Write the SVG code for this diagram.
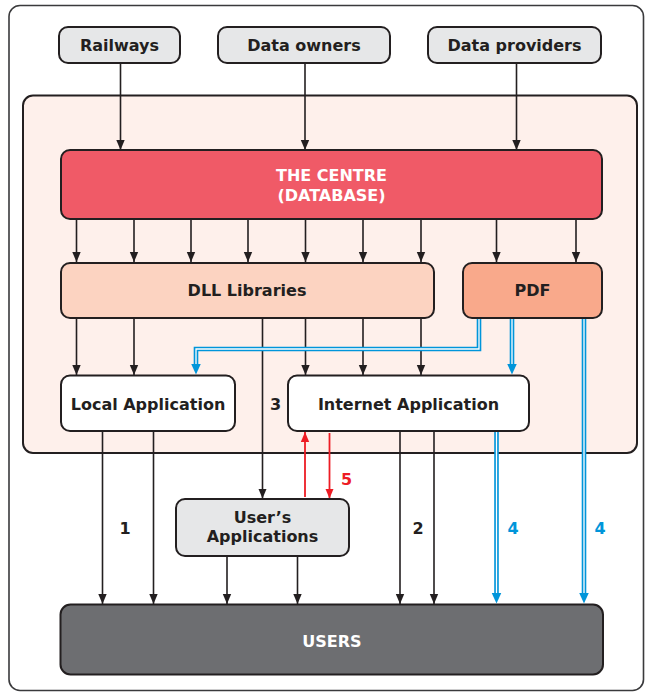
<svg xmlns="http://www.w3.org/2000/svg" width="645" height="693" viewBox="0 0 645 693">
<defs>
<style>
.box{stroke:#231F20;stroke-width:2}
.t{font-family:"DejaVu Sans","Verdana",sans-serif;font-weight:bold;font-size:16px;text-anchor:middle;fill:#231F20}
.w{fill:#FFFFFF}
.ln{fill:none;stroke:#231F20;stroke-width:1.6}
.red{fill:none;stroke:#ED1C24;stroke-width:1.8}
.bo{fill:none;stroke:#0095DA;stroke-width:4.6}
.bi{fill:none;stroke:#FFFFFF;stroke-width:1.3}
</style>
<marker id="ak" viewBox="0 0 10 10" refX="10" refY="5" markerWidth="10" markerHeight="10" markerUnits="userSpaceOnUse" orient="auto"><path d="M0,0.8 L10,5 L0,9.2 z" fill="#231F20"/></marker>
<marker id="ar" viewBox="0 0 10 10" refX="10" refY="5" markerWidth="10" markerHeight="10" markerUnits="userSpaceOnUse" orient="auto"><path d="M0,0.8 L10,5 L0,9.2 z" fill="#ED1C24"/></marker>
<marker id="ab" viewBox="0 0 11 11" refX="0.5" refY="5.5" markerWidth="11" markerHeight="11" markerUnits="userSpaceOnUse" orient="auto"><path d="M0,0.5 L11,5.5 L0,10.5 z" fill="#0095DA"/></marker>
</defs>
<rect x="0" y="0" width="645" height="693" fill="#FFFFFF"/>
<rect x="9" y="5.5" width="634.5" height="685" rx="11" fill="#FFFFFF" stroke="#3A3A3C" stroke-width="1.6"/>
<g id="system">
<rect x="23" y="95.5" width="614" height="357.5" rx="10" fill="#FEF0EB" stroke="#231F20" stroke-width="2"/>
</g>
<g id="connectors">
<path class="ln" marker-end="url(#ak)" d="M120.5,63 V150"/>
<path class="ln" marker-end="url(#ak)" d="M305,63 V150"/>
<path class="ln" marker-end="url(#ak)" d="M516.5,63 V150"/>
<path class="ln" marker-end="url(#ak)" d="M76.5,219 V262"/>
<path class="ln" marker-end="url(#ak)" d="M134,219 V262"/>
<path class="ln" marker-end="url(#ak)" d="M191,219 V262"/>
<path class="ln" marker-end="url(#ak)" d="M248,219 V262"/>
<path class="ln" marker-end="url(#ak)" d="M305.5,219 V262"/>
<path class="ln" marker-end="url(#ak)" d="M363,219 V262"/>
<path class="ln" marker-end="url(#ak)" d="M421,219 V262"/>
<path class="ln" marker-end="url(#ak)" d="M496.5,219 V262"/>
<path class="ln" marker-end="url(#ak)" d="M576,219 V262"/>
<path class="ln" marker-end="url(#ak)" d="M76.5,318 V375"/>
<path class="ln" marker-end="url(#ak)" d="M134,318 V375"/>
<path class="ln" marker-end="url(#ak)" d="M305.5,318 V375"/>
<path class="ln" marker-end="url(#ak)" d="M363,318 V375"/>
<path class="ln" marker-end="url(#ak)" d="M421,318 V375"/>
<path class="ln" marker-end="url(#ak)" d="M262.5,318 V498.5"/>
<path class="ln" marker-end="url(#ak)" d="M102.5,431 V604"/>
<path class="ln" marker-end="url(#ak)" d="M153.5,431 V604"/>
<path class="ln" marker-end="url(#ak)" d="M227,556 V604"/>
<path class="ln" marker-end="url(#ak)" d="M297.5,556 V604"/>
<path class="ln" marker-end="url(#ak)" d="M400,431 V604"/>
<path class="ln" marker-end="url(#ak)" d="M434,431 V604"/>
<path class="red" marker-end="url(#ar)" d="M305,497 V432"/>
<path class="red" marker-end="url(#ar)" d="M329.5,433 V498.5"/>
<path class="bo" marker-end="url(#ab)" d="M479,318 V349 H196 V364"/>
<path class="bi" d="M479,318 V349 H196 V364"/>
<path class="bo" marker-end="url(#ab)" d="M512,318 V364"/>
<path class="bi" d="M512,318 V364"/>
<path class="bo" marker-end="url(#ab)" d="M584,318 V593"/>
<path class="bi" d="M584,318 V593"/>
<path class="bo" marker-end="url(#ab)" d="M496.5,431 V593"/>
<path class="bi" d="M496.5,431 V593"/>
</g>
<g id="labels">
<text class="t" x="125" y="533.5">1</text>
<text class="t" x="418" y="533.5">2</text>
<text class="t" x="275.5" y="409.5">3</text>
<text class="t" x="513" y="533.5" style="fill:#0095DA">4</text>
<text class="t" x="600" y="533.5" style="fill:#0095DA">4</text>
<text class="t" x="346.5" y="484.5" style="fill:#ED1C24">5</text>
</g>
<g id="railways">
<rect class="box" x="59" y="27" width="121" height="36" rx="9" fill="#E6E7E8"/>
<text class="t" x="119.5" y="50.5">Railways</text>
</g>
<g id="data-owners">
<rect class="box" x="218" y="27" width="172" height="36" rx="9" fill="#E6E7E8"/>
<text class="t" x="304" y="50.5">Data owners</text>
</g>
<g id="data-providers">
<rect class="box" x="428" y="27" width="173" height="36" rx="9" fill="#E6E7E8"/>
<text class="t" x="514.5" y="50.5">Data providers</text>
</g>
<g id="centre">
<rect class="box" x="61" y="150" width="541" height="69" rx="9" fill="#F05A67"/>
<text class="t w" x="331.5" y="181">THE CENTRE</text>
<text class="t w" x="331.5" y="200.5">(DATABASE)</text>
</g>
<g id="dll">
<rect class="box" x="61" y="263" width="373" height="55" rx="9" fill="#FCD3C1"/>
<text class="t" x="247" y="296">DLL Libraries</text>
</g>
<g id="pdf">
<rect class="box" x="463" y="263" width="139" height="55" rx="9" fill="#F9A98B"/>
<text class="t" x="532.5" y="296">PDF</text>
</g>
<g id="local-app">
<rect class="box" x="61" y="375.5" width="174" height="55.5" rx="9" fill="#FFFFFF"/>
<text class="t" x="148" y="409.5">Local Application</text>
</g>
<g id="internet-app">
<rect class="box" x="288" y="375.5" width="241" height="55.5" rx="9" fill="#FFFFFF"/>
<text class="t" x="408.5" y="409.5">Internet Application</text>
</g>
<g id="users-apps">
<rect class="box" x="176" y="499" width="173" height="57" rx="9" fill="#E6E7E8"/>
<text class="t" x="262.5" y="522.5">User’s</text>
<text class="t" x="262.5" y="542">Applications</text>
</g>
<g id="users">
<rect class="box" x="60.5" y="604.5" width="542.5" height="70" rx="10" fill="#6D6E71"/>
<text class="t w" x="332" y="647">USERS</text>
</g>
</svg>
